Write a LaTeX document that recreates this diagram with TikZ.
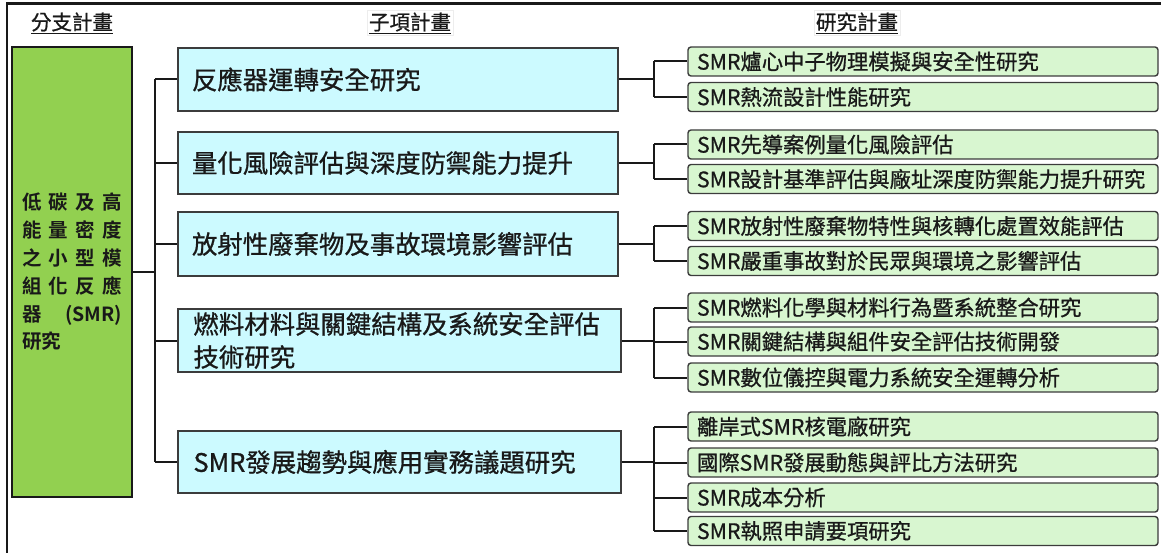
\documentclass[tikz,border=0pt]{standalone}
\usepackage{fontspec}
\setmainfont{Noto Sans CJK TC}[FakeBold=0.8]
\newfontfamily\boldcjk{Noto Sans CJK TC Bold}
\definecolor{rootgreen}{RGB}{146,208,80}
\definecolor{subblue}{RGB}{204,250,255}
\definecolor{leafgreen}{RGB}{216,246,208}
\definecolor{edgegray}{RGB}{60,60,60}
\definecolor{inkdark}{RGB}{25,25,25}
\tikzset{
  rootbox/.style={draw=inkdark, line width=2.6pt, fill=rootgreen, minimum width=120pt, minimum height=450pt, inner sep=0pt, text width=100pt, align=left, text=inkdark, font=\boldcjk\fontsize{19.5}{27.8}\selectfont},
  subbox/.style={draw=edgegray, line width=1.4pt, fill=subblue, minimum height=63pt, inner xsep=14pt, inner ysep=0pt, text width=412pt, align=left, text=inkdark, font=\fontsize{25.4}{33}\selectfont},
  leafbox/.style={draw=edgegray, line width=1.4pt, rounded corners=3pt, fill=leafgreen, minimum width=470pt, minimum height=29pt, inner xsep=9pt, inner ysep=0pt, text width=452pt, align=left, text=inkdark, font=\fontsize{21.3}{24}\selectfont},
  headtxt/.style={text=inkdark, font=\fontsize{20.5}{22}\selectfont, inner sep=2pt},
  conn/.style={draw=inkdark, line width=2pt},
}
\begin{document}
\begin{tikzpicture}[x=1pt,y=-1pt]
\useasboundingbox (0,0) rectangle (1161,553);
\draw[draw=inkdark, line width=2.6pt] (7,553) -- (7,3.5) -- (1161,3.5);

% headers
\node[headtxt] (h1) at (72,23) {\underline{分支計畫}};
\node[headtxt, draw=black!7] (h2) at (410,23) {\underline{子項計畫}};
\node[headtxt, draw=black!7] (h3) at (857,23) {\underline{研究計畫}};

% root
\node[rootbox] (root) at (72,272) {%
\makebox[100pt]{低\hfill 碳\hfill 及\hfill 高}\\
\makebox[100pt]{能\hfill 量\hfill 密\hfill 度}\\
\makebox[100pt]{之\hfill 小\hfill 型\hfill 模}\\
\makebox[100pt]{組\hfill 化\hfill 反\hfill 應}\\
\makebox[100pt]{器\hfill (SMR)}\\
研究};

% sub projects
\node[subbox, minimum width=440pt, minimum height=63pt] (b1) at (398,79.5) {反應器運轉安全研究};
\node[subbox, minimum width=440pt, minimum height=62pt] (b2) at (398,163) {量化風險評估與深度防禦能力提升};
\node[subbox, minimum width=440pt, minimum height=64pt] (b3) at (398,244) {放射性廢棄物及事故環境影響評估};
\node[subbox, minimum width=443pt, minimum height=63pt] (b4) at (399.5,340.5) {燃料材料與關鍵結構及系統安全評估\\技術研究};
\node[subbox, minimum width=443pt, minimum height=62pt] (b5) at (399.5,462) {SMR發展趨勢與應用實務議題研究};

% research projects
\node[leafbox] (g1) at (923,61.5) {SMR爐心中子物理模擬與安全性研究};
\node[leafbox] (g2) at (923,97) {SMR熱流設計性能研究};
\node[leafbox] (g3) at (923,144.5) {SMR先導案例量化風險評估};
\node[leafbox] (g4) at (923,179) {SMR設計基準評估與廠址深度防禦能力提升研究};
\node[leafbox] (g5) at (923,226) {SMR放射性廢棄物特性與核轉化處置效能評估};
\node[leafbox] (g6) at (923,261) {SMR嚴重事故對於民眾與環境之影響評估};
\node[leafbox] (g7) at (923,307.5) {SMR燃料化學與材料行為暨系統整合研究};
\node[leafbox] (g8) at (923,341.5) {SMR關鍵結構與組件安全評估技術開發};
\node[leafbox] (g9) at (923,377.5) {SMR數位儀控與電力系統安全運轉分析};
\node[leafbox] (g10) at (923,426.5) {離岸式SMR核電廠研究};
\node[leafbox] (g11) at (923,462.5) {國際SMR發展動態與評比方法研究};
\node[leafbox] (g12) at (923,497.5) {SMR成本分析};
\node[leafbox] (g13) at (923,531) {SMR執照申請要項研究};

% connectors: root to sub projects
\coordinate (trunk) at (155,0);
\draw[conn] (root.east) -- (root.east -| trunk);
\draw[conn] (b1.west -| trunk) -- (b5.west -| trunk);
\foreach \b in {b1,b2,b3,b4,b5} \draw[conn] (\b.west -| trunk) -- (\b.west);

% connectors: sub projects to research projects
\coordinate (fork) at (654,0);
\foreach \b/\first/\last/\all in {b1/g1/g2/{g1,g2}, b2/g3/g4/{g3,g4}, b3/g5/g6/{g5,g6}, b4/g7/g9/{g7,g8,g9}, b5/g10/g13/{g10,g11,g12,g13}}{
  \draw[conn] (\b.east) -- (\b.east -| fork);
  \draw[conn] (\first.west -| fork) -- (\last.west -| fork);
  \foreach \g in \all \draw[conn] (\g.west -| fork) -- (\g.west);
}
\end{tikzpicture}
\end{document}
